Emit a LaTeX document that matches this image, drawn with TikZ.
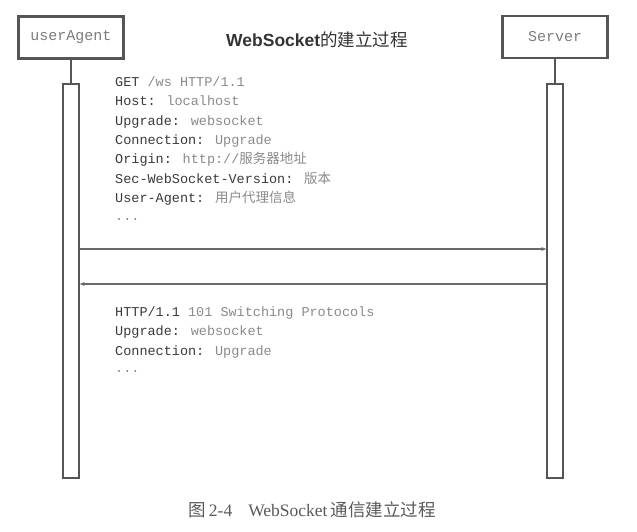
\documentclass[tikz,border=0pt]{standalone}
\usepackage{fontspec}
\setmainfont{Liberation Serif}
\newfontfamily\monof{Liberation Mono}
\newfontfamily\cjkf{Noto Sans CJK SC}
\newfontfamily\sansf{Liberation Sans}
\usetikzlibrary{arrows.meta}
\definecolor{linec}{HTML}{555555}
\definecolor{keyc}{HTML}{3A3A3A}
\definecolor{valc}{HTML}{8A8A8A}
\definecolor{arrc}{HTML}{6A6A6A}
\newcommand\hkey[1]{\textcolor{keyc}{#1}}
\newcommand\hval[1]{\textcolor{valc}{#1}}
\begin{document}
\begin{tikzpicture}[x=1pt,y=-1pt,
  actor/.style={draw=linec, line width=2.4pt, minimum width=105pt, minimum height=42pt, inner sep=0pt,
    font=\fontsize{15}{18}\selectfont\monof, text=valc!90!black},
  life/.style={draw=linec, line width=1.9pt, minimum width=15.5pt, minimum height=394pt, inner sep=0pt},
  stem/.style={draw=linec, line width=2.4pt},
  msg/.style={draw=arrc, line width=1.1pt, -{Stealth[length=5pt,width=4pt]}},
  hline/.style={anchor=base west, inner sep=0pt, font=\fontsize{13.5}{16}\selectfont\monof},
]
\useasboundingbox (0,0) rectangle (637,532);
% actors
\node[actor] (ua) at (71,37.5) {userAgent};
\node[actor] (srv) at (555,37) {Server};
\node[anchor=center, inner sep=0pt, text=black!80] (title) at (317,40)
  {\fontsize{17.5}{20}\selectfont{\sansf\bfseries WebSocket}{\cjkf 的建立过程}};
% lifelines
\node[life] (ual) at (71,281) {};
\node[life] (srvl) at (555,281) {};
\draw[stem] (ua.south) -- (ual.north);
\draw[stem] (srv.south) -- (srvl.north);
% messages
\coordinate (m1) at (0,249);
\coordinate (m2) at (0,284);
\draw[msg] (ual.east |- m1) -- (srvl.west |- m1);
\draw[msg] (srvl.west |- m2) -- (ual.east |- m2);
% request text
\node[hline] (r1) at (115,86.5) {\hkey{GET} \hval{/ws HTTP/1.1}};
\node[hline] (r2) at (115,105.8) {\hkey{Host:} \hval{localhost}};
\node[hline] (r3) at (115,125.1) {\hkey{Upgrade:} \hval{websocket}};
\node[hline] (r4) at (115,144.4) {\hkey{Connection:} \hval{Upgrade}};
\node[hline] (r5) at (115,163.7) {\hkey{Origin:} \hval{http://{\cjkf 服务器地址}}};
\node[hline] (r6) at (115,183) {\hkey{Sec-WebSocket-Version:} \hval{{\cjkf 版本}}};
\node[hline] (r7) at (115,202.3) {\hkey{User-Agent:} \hval{{\cjkf 用户代理信息}}};
\node[hline] (r8) at (115,220.5) {\hval{...}};
% response text
\node[hline] (s1) at (115,316.5) {\hkey{HTTP/1.1} \hval{101 Switching Protocols}};
\node[hline] (s2) at (115,335.8) {\hkey{Upgrade:} \hval{websocket}};
\node[hline] (s3) at (115,355.1) {\hkey{Connection:} \hval{Upgrade}};
\node[hline] (s4) at (115,372) {\hval{...}};
% caption
\node[anchor=center, inner sep=0pt, text=black!65] (cap) at (312,510)
  {\fontsize{17.5}{20}\selectfont{\cjkf 图}\hspace{3pt}2-4\hspace{16pt}WebSocket\hspace{3pt}{\cjkf 通信建立过程}};
\end{tikzpicture}
\end{document}
